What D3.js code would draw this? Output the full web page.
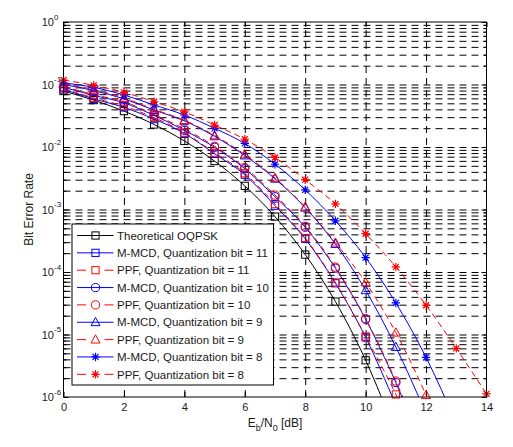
<!DOCTYPE html>
<html>
<head>
<meta charset="utf-8">
<script src="https://cdn.jsdelivr.net/npm/d3@7"></script>
<style>
  html, body { margin: 0; padding: 0; background: #fff; }
  svg { display: block; font-family: "Liberation Sans", Arial, sans-serif; }
</style>
</head>
<body>
<svg id="chart" width="513" height="447"></svg>
<script>
// ---------------- data ----------------
const ebn0 = [0, 1, 2, 3, 4, 5, 6, 7, 8, 9, 10, 11, 12, 13, 14];
const theory = [0.0786, 0.0563, 0.0375, 0.0229, 0.0125, 0.00595, 0.00239, 7.7e-4, 1.9e-4, 3.36e-5, 3.87e-6, 2.6e-7];
const mmcd11 = [0.083, 0.059, 0.043, 0.028, 0.0165, 0.0078, 0.0036, 0.00115, 3.4e-4, 6.6e-5, 9.0e-6, 7.4e-7];
const ppf11  = [0.086, 0.061, 0.045, 0.0295, 0.017, 0.0081, 0.0038, 0.00122, 3.5e-4, 6.8e-5, 9.3e-6, 1.1e-6, 9e-8];
const mmcd10 = [0.090, 0.067, 0.051, 0.032, 0.0185, 0.0099, 0.0045, 0.0016, 5.2e-4, 1.15e-4, 1.75e-5, 1.7e-6, 1.1e-7];
const ppf10  = [0.093, 0.069, 0.053, 0.033, 0.0195, 0.0103, 0.0047, 0.0017, 5.4e-4, 1.2e-4, 1.8e-5, 1.8e-6, 1.2e-7];
const mmcd9  = [0.100, 0.080, 0.059, 0.039, 0.0262, 0.0148, 0.0073, 0.0031, 0.00107, 2.8e-4, 5.1e-5, 6.3e-6, 5.4e-7];
const ppf9   = [0.103, 0.083, 0.061, 0.040, 0.0268, 0.0153, 0.0076, 0.0032, 0.0011, 2.95e-4, 6.8e-5, 1.07e-5, 1.07e-6, 7e-8];
const mmcd8  = [0.106, 0.090, 0.068, 0.047, 0.0325, 0.0199, 0.0114, 0.0053, 0.00206, 6.6e-4, 1.7e-4, 3.2e-5, 4.3e-6, 3.8e-7];
const ppf8   = [0.118, 0.097, 0.075, 0.053, 0.0365, 0.0225, 0.0133, 0.0068, 0.0030, 0.00123, 4.1e-4, 1.21e-4, 2.94e-5, 6.0e-6, 1.12e-6];

const seriesNames = [
  "Theoretical OQPSK",
  "M-MCD, Quantization bit = 11",
  "PPF, Quantization bit = 11",
  "M-MCD, Quantization bit = 10",
  "PPF, Quantization bit = 10",
  "M-MCD, Quantization bit = 9",
  "PPF, Quantization bit = 9",
  "M-MCD, Quantization bit = 8",
  "PPF, Quantization bit = 8"
];
const seriesValues = [theory, mmcd11, ppf11, mmcd10, ppf10, mmcd9, ppf9, mmcd8, ppf8];

const xTickValues = [0, 2, 4, 6, 8, 10, 12, 14];
const yDecadeExponents = [0, -1, -2, -3, -4, -5, -6];
const xLabelParts = ["E", "b", "/N", "0", " [dB]"];
const yLabel = "Bit Error Rate";

// ---------------- styles ----------------
const seriesStyle = [
  { color: "#000000", dash: null,  marker: "square" },
  { color: "#0000ff", dash: null,  marker: "square" },
  { color: "#ff0000", dash: "6,4", marker: "square" },
  { color: "#0000ff", dash: null,  marker: "circle" },
  { color: "#ff0000", dash: "6,4", marker: "circle" },
  { color: "#0000ff", dash: null,  marker: "triangle" },
  { color: "#ff0000", dash: "6,4", marker: "triangle" },
  { color: "#0000ff", dash: null,  marker: "star" },
  { color: "#ff0000", dash: "6,4", marker: "star" }
];

const svg = d3.select("#chart");
const L = 63.5, R = 486.5, T = 22, B = 397;
const W = R - L, H = B - T;

const x = d3.scaleLinear().domain([0, 14]).range([L, R]);
const y = d3.scaleLog().domain([1e-6, 1]).range([B, T]);

// grid values
const yGridVals = [];
for (let e = -6; e < 0; e++) {
  for (let k = 1; k <= 9; k++) {
    const v = k * Math.pow(10, e);
    if (e === -6 && k === 1) continue;
    yGridVals.push(v);
  }
}
const yMajorVals = yDecadeExponents.map(e => Math.pow(10, e));
const yMinorVals = yGridVals.filter(v => !yMajorVals.some(m => Math.abs(m - v) / m < 1e-9));

const gridDash = "7,5";

// horizontal grid
const gy = svg.append("g").attr("transform", `translate(${L},0)`)
  .call(d3.axisLeft(y).tickValues(yGridVals).tickSize(-W).tickFormat(""));
gy.select(".domain").remove();
gy.selectAll(".tick line").attr("stroke", "#000").attr("stroke-dasharray", gridDash).attr("stroke-width", 1);

// vertical grid
const gx = svg.append("g").attr("transform", `translate(0,${B})`)
  .call(d3.axisBottom(x).tickValues(xTickValues.filter(v => v > 0 && v < 14)).tickSize(-H).tickFormat(""));
gx.select(".domain").remove();
gx.selectAll(".tick line").attr("stroke", "#000").attr("stroke-dasharray", gridDash).attr("stroke-width", 1);

// tick marks (inward), all four sides
function tickAxis(axisFn, scale, vals, size, tr) {
  const g = svg.append("g").attr("transform", tr)
    .call(axisFn(scale).tickValues(vals).tickSizeInner(size).tickSizeOuter(0).tickFormat(""));
  g.select(".domain").remove();
  g.selectAll(".tick line").attr("stroke", "#000");
  return g;
}
tickAxis(d3.axisLeft, y, yMajorVals, -5, `translate(${L},0)`);
tickAxis(d3.axisLeft, y, yMinorVals, -3, `translate(${L},0)`);
tickAxis(d3.axisRight, y, yMajorVals, -5, `translate(${R},0)`);
tickAxis(d3.axisRight, y, yMinorVals, -3, `translate(${R},0)`);
tickAxis(d3.axisBottom, x, xTickValues, -5, `translate(0,${B})`);
tickAxis(d3.axisTop, x, xTickValues, -5, `translate(0,${T})`);

// clip for lines
svg.append("defs").append("clipPath").attr("id", "plotclip")
  .append("rect").attr("x", L).attr("y", T).attr("width", W).attr("height", H);

// markers
function drawMarker(g, type, cx, cy, color) {
  if (type === "square") {
    g.append("rect").attr("x", cx - 3.6).attr("y", cy - 3.6).attr("width", 7.2).attr("height", 7.2)
      .attr("fill", "none").attr("stroke", color).attr("stroke-width", 1);
  } else if (type === "circle") {
    g.append("circle").attr("cx", cx).attr("cy", cy).attr("r", 4.1)
      .attr("fill", "none").attr("stroke", color).attr("stroke-width", 1);
  } else if (type === "triangle") {
    const p = [[cx, cy - 4.8], [cx - 4.5, cy + 3.4], [cx + 4.5, cy + 3.4]];
    g.append("path").attr("d", "M" + p.map(q => q.join(",")).join("L") + "Z")
      .attr("fill", "none").attr("stroke", color).attr("stroke-width", 1);
  } else if (type === "star") {
    const r = 4.2, d = 3.0;
    const path = `M${cx - r},${cy}L${cx + r},${cy}M${cx},${cy - r}L${cx},${cy + r}` +
      `M${cx - d},${cy - d}L${cx + d},${cy + d}M${cx - d},${cy + d}L${cx + d},${cy - d}`;
    g.append("path").attr("d", path).attr("fill", "none").attr("stroke", color).attr("stroke-width", 1.2);
  }
}

const line = d3.line().x(d => x(d[0])).y(d => y(d[1])).curve(d3.curveMonotoneX);

const linesG = svg.append("g").attr("clip-path", "url(#plotclip)");
const markersG = svg.append("g");
seriesValues.forEach((vals, i) => {
  const st = seriesStyle[i];
  const pts = vals.map((v, j) => [ebn0[j], v]);
  linesG.append("path").datum(pts).attr("d", line)
    .attr("fill", "none").attr("stroke", st.color).attr("stroke-width", 1)
    .attr("stroke-dasharray", st.dash);
  pts.filter(p => p[1] >= 0.999e-6).forEach(p => drawMarker(markersG, st.marker, x(p[0]), y(p[1]), st.color));
});

// axes box
svg.append("rect").attr("x", L).attr("y", T).attr("width", W).attr("height", H)
  .attr("fill", "none").attr("stroke", "#000").attr("stroke-width", 1);

// x tick labels
const xl = svg.append("g").attr("transform", `translate(0,${B})`)
  .call(d3.axisBottom(x).tickValues(xTickValues).tickSize(0).tickPadding(6.5).tickFormat(d3.format("d")));
xl.select(".domain").remove();
xl.selectAll("text").attr("font-size", 11).attr("fill", "#1a1a1a")
  .attr("font-family", "Liberation Sans, Arial, sans-serif");

// y tick labels with superscripts
const yl = svg.append("g");
yDecadeExponents.forEach(e => {
  const yy = y(Math.pow(10, e));
  const t = yl.append("text").attr("x", 54).attr("y", yy + 4).attr("text-anchor", "end")
    .attr("font-size", 11).attr("fill", "#1a1a1a").text("10");
  yl.append("text").attr("x", 54).attr("y", yy - 2.5).attr("text-anchor", "start")
    .attr("font-size", 8).attr("fill", "#1a1a1a").text(e === 0 ? "0" : "-" + Math.abs(e));
});

// x label
const xlab = svg.append("text").attr("x", (L + R) / 2).attr("y", 426.5).attr("text-anchor", "middle")
  .attr("font-size", 12).attr("fill", "#1a1a1a");
xlab.append("tspan").text(xLabelParts[0]);
xlab.append("tspan").attr("font-size", 9).attr("dy", 4).text(xLabelParts[1]);
xlab.append("tspan").attr("dy", -4).text(xLabelParts[2]);
xlab.append("tspan").attr("font-size", 9).attr("dy", 4).text(xLabelParts[3]);
xlab.append("tspan").attr("dy", -4).text(xLabelParts[4]);

// y label
svg.append("text").attr("transform", `translate(32.5,${(T + B) / 2}) rotate(-90)`)
  .attr("text-anchor", "middle").attr("font-size", 12).attr("fill", "#1a1a1a").text(yLabel);

// legend
const lg = svg.append("g");
const lgX = 72, lgY = 224, lgW = 201.5, lgH = 161;
lg.append("rect").attr("x", lgX).attr("y", lgY).attr("width", lgW).attr("height", lgH)
  .attr("fill", "#fff").attr("stroke", "#000").attr("stroke-width", 1);
const rowY0 = 235.5, rowDy = 17.35;
seriesNames.forEach((name, i) => {
  const st = seriesStyle[i];
  const ry = rowY0 + i * rowDy;
  lg.append("line").attr("x1", 77).attr("x2", 113.5).attr("y1", ry).attr("y2", ry)
    .attr("stroke", st.color).attr("stroke-width", 1)
    .attr("stroke-dasharray", st.dash ? "9,18.5" : null);
  drawMarker(lg, st.marker, 95.5, ry, st.color);
  lg.append("text").attr("x", 117).attr("y", ry + 4.2).attr("font-size", 11.5)
    .attr("fill", "#1a1a1a").text(name);
});
</script>
</body>
</html>
